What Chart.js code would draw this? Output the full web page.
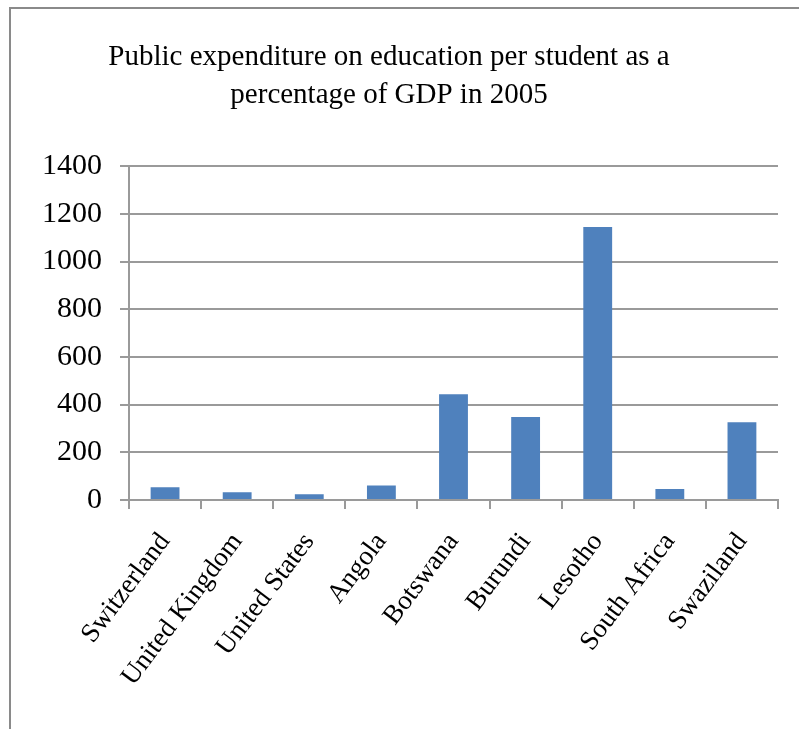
<!DOCTYPE html>
<html>
<head>
<meta charset="utf-8">
<script src="https://cdn.jsdelivr.net/npm/chart.js@4"></script>
<style>
  body { margin: 0; background: #fff; }
  #wrap { position: relative; width: 799px; height: 729px; overflow: hidden; }
  #frame {
    position: absolute; left: 9px; top: 7px; width: 800px; height: 730px;
    border-left: 2px solid #8a8a8a; border-top: 2px solid #8a8a8a;
    pointer-events: none;
  }
  canvas { position: absolute; left: 0; top: 0; }
</style>
</head>
<body>
<div id="wrap">
  <canvas id="chart" width="799" height="729"></canvas>
  <div id="frame"></div>
</div>
<script>
const countries = ["Switzerland", "United Kingdom", "United States", "Angola", "Botswana", "Burundi", "Lesotho", "South Africa", "Swaziland"];
const expenditure = [53, 32, 24, 61, 443, 348, 1145, 46, 326];
const titleLines = ["Public expenditure on education per student as a", "percentage of GDP in 2005"];
const yMax = 1400;
const yStep = 200;

const serif = "'Liberation Serif', 'Times New Roman', serif";
const gridGray = "#9a9a9a";

new Chart(document.getElementById("chart"), {
  type: "bar",
  data: {
    labels: countries,
    datasets: [
      {
        data: expenditure,
        backgroundColor: "#4f81bd",
        barPercentage: 0.4,
        categoryPercentage: 1.0,
      },
    ],
  },
  options: {
    responsive: false,
    animation: false,
    layout: { padding: { top: 0, right: 21, bottom: 4, left: 0 } },
    plugins: {
      legend: { display: false },
      tooltip: { enabled: false },
      title: {
        display: true,
        text: titleLines,
        color: "#000",
        font: { family: serif, size: 29, weight: "normal", lineHeight: 1.33 },
        padding: { top: 38, bottom: 51 },
      },
    },
    scales: {
      x: {
        grid: { drawOnChartArea: false, color: gridGray, lineWidth: 2, tickLength: 9 },
        border: { color: gridGray, width: 2 },
        ticks: {
          color: "#000",
          font: { family: serif, size: 27 },
          minRotation: 53,
          maxRotation: 53,
          padding: 18,
        },
        afterFit: (scale) => { scale.height = 225; },
      },
      y: {
        min: 0,
        max: yMax,
        grid: { color: gridGray, lineWidth: 2, tickLength: 9 },
        border: { color: gridGray, width: 2 },
        ticks: {
          stepSize: yStep,
          color: "#000",
          font: { family: serif, size: 30 },
          padding: 18,
          callback: (v) => String(v),
        },
        afterFit: (scale) => { scale.width = 129; },
      },
    },
  },
});
</script>
</body>
</html>
